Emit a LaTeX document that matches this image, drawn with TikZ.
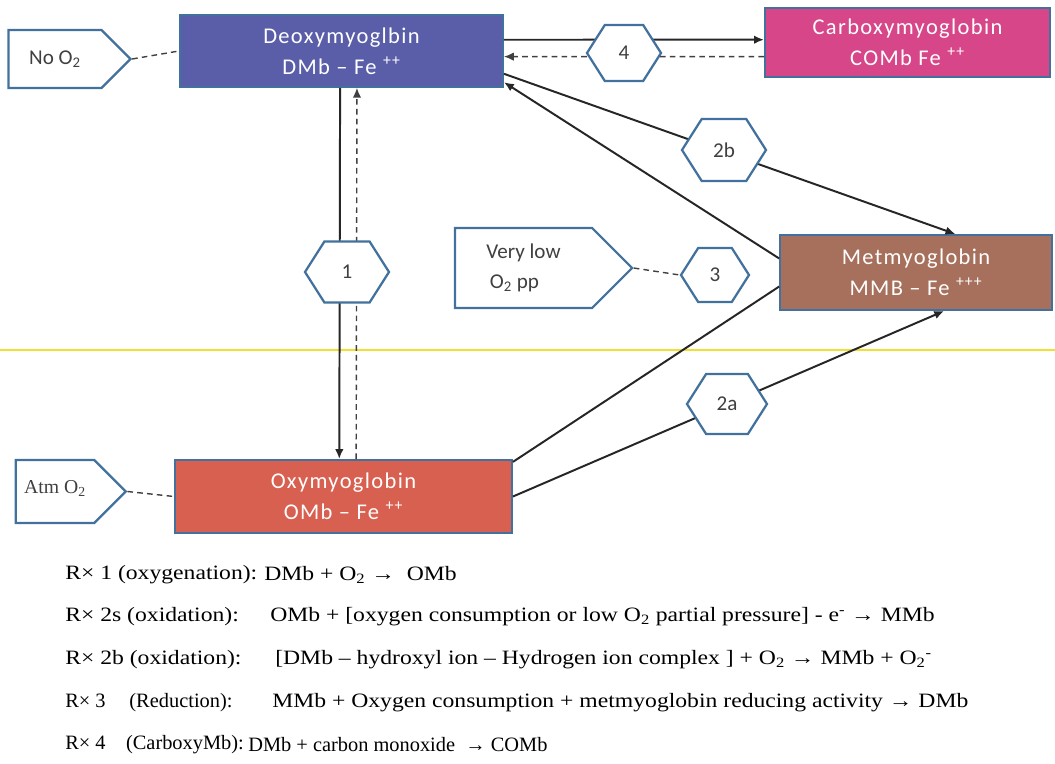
\documentclass[tikz,border=0pt]{standalone}
\usepackage{fontspec}
\setmainfont{Liberation Serif}
\newfontfamily\eqfont[FakeStretch=1.16]{Liberation Serif}
\newfontfamily\boxfont[LetterSpace=6]{Carlito}
\newfontfamily\tagfont{Carlito}
\usetikzlibrary{arrows.meta, positioning, shapes.symbols}
\definecolor{olBlue}{HTML}{41719C}
\definecolor{deoxyBlue}{HTML}{5A5EA8}
\definecolor{carboxyPink}{HTML}{D64688}
\definecolor{metBrown}{HTML}{A6705C}
\definecolor{oxyRed}{HTML}{D86050}
\definecolor{tagGray}{HTML}{404040}
\definecolor{markYellow}{HTML}{F2E030}

\begin{document}
\begin{tikzpicture}[x=0.025cm, y=-0.025cm,
    chem/.style={rectangle, draw=olBlue, line width=1.2pt, text=white,
                 font=\boxfont\fontsize{16}{20}\selectfont, align=center, inner sep=0pt},
    tag/.style={signal, signal to=east, signal pointer angle=90, fill=white,
                draw=olBlue, line width=1.6pt, text=tagGray, inner sep=0pt,
                font=\tagfont\fontsize{15}{19}\selectfont},
    rxn/.style={signal, signal to=east and west, signal pointer angle=115,
                fill=white, draw=olBlue, line width=1.6pt, text=tagGray, inner sep=0pt,
                font=\tagfont\fontsize{15}{19}\selectfont},
    link/.style={line width=1.4pt, black!85},
    weak/.style={line width=1pt, black!75, dashed, dash pattern=on 4pt off 3pt},
    tip/.style={-{Latex[length=7pt, width=6pt]}},
    eq/.style={anchor=west, inner sep=0pt, font=\eqfont\fontsize{14.5}{17}\selectfont},
    eqn/.style={eq, font=\rmfamily\fontsize{14.5}{17}\selectfont},
  ]
    \useasboundingbox (0,0) rectangle (1055,764);
    % yellow guide across the page
    \draw[markYellow, line width=1pt] (0,350) -- (1055,350);

    % ─── species ───
    \node[chem, fill=deoxyBlue, minimum width=8.08cm, minimum height=1.8cm] (dmb) at (341.5,51)
      {Deoxymyoglbin\\[2pt]DMb – Fe \textsuperscript{++}};
    \node[chem, fill=carboxyPink, minimum width=7.13cm, minimum height=1.73cm] (comb) at (907.5,42.5)
      {Carboxymyoglobin\\[2pt]COMb Fe \textsuperscript{++}};
    \node[chem, fill=metBrown, minimum width=6.8cm, minimum height=1.88cm] (mmb) at (916,272.5)
      {Metmyoglobin\\[2pt]MMB – Fe \textsuperscript{+++}};
    \node[chem, fill=oxyRed, minimum width=8.43cm, minimum height=1.83cm] (omb) at (343.5,496.5)
      {Oxymyoglobin\\[2pt]OMb – Fe \textsuperscript{++}};

    % ─── conditions ───
    \node[tag, minimum width=3.05cm, minimum height=1.45cm] (noO) at (55,59) {No O\textsubscript{2}\hspace{8pt}};
    \node[tag, minimum width=4.43cm, minimum height=2.0cm, align=left] (lowO) at (523.5,268)
      {Very low\\[2pt]\,O\textsubscript{2} pp\hspace{48pt}};
    \node[tag, minimum width=2.75cm, minimum height=1.58cm, font=\rmfamily\fontsize{14}{17}\selectfont] (atmO) at (55,491.5)
      {\raisebox{6pt}{Atm O\textsubscript{2}}\hspace{8pt}};

    % ─── connectors ───
    \draw[weak] (noO.east) -- (dmb.west);
    \draw[weak] (atmO.east) -- (omb.west);
    \draw[link, tip] ([yshift=8pt]dmb.east) -- ([yshift=2pt]comb.west);
    \draw[weak, tip] ([yshift=-10pt]comb.west) -- ([yshift=-4pt]dmb.east);
    \draw[link, tip] ([yshift=10pt]dmb.south east) -- ([xshift=28pt]mmb.north);
    \draw[link, tip] ([yshift=10pt]mmb.west) -- ([yshift=4pt]dmb.south east);
    \draw[link] ([yshift=-2pt]omb.north east) -- ([yshift=-10pt]mmb.west);
    \draw[link, tip] (omb.east) -- ([xshift=20pt]mmb.south);
    \draw[link, tip] ([xshift=-1pt]dmb.south) -- ([xshift=-3pt]omb.north);
    \draw[weak, tip] ([xshift=9pt]omb.north) -- ([xshift=11pt]dmb.south);

    % ─── reactions ───
    \node[rxn, minimum width=1.85cm, minimum height=1.4cm] (rFour) at (624,53) {4};
    \node[rxn, minimum width=2.1cm, minimum height=1.55cm] (rTwoB) at (724,150) {2b};
    \node[rxn, minimum width=1.7cm, minimum height=1.35cm] (rThree) at (715,275) {3};
    \node[rxn, minimum width=2.1cm, minimum height=1.52cm] (rOne) at (347,272) {1};
    \node[rxn, minimum width=2.0cm, minimum height=1.5cm] (rTwoA) at (727,404) {2a};
    \draw[weak] (lowO.east) -- (rThree.west);

    % ─── reaction list ───
    \node[eq] (lOne) at (65,575) {R× 1 (oxygenation):};
    \node[eq] (eOne) at (264,575) {DMb + O\textsubscript{2}\ → \ OMb};
    \node[eq] (lTwoA) at (65,617) {R× 2s (oxidation):};
    \node[eq] (eTwoA) at (270,617)
      {OMb + [oxygen consumption or low O\textsubscript{2} partial pressure] - e\textsuperscript{-} → MMb};
    \node[eq] (lTwoB) at (65,660) {R× 2b (oxidation):};
    \node[eq] (eTwoB) at (275,660)
      {[DMb – hydroxyl ion – Hydrogen ion complex ] + O\textsubscript{2} → MMb + O\textsubscript{2}\textsuperscript{-}};
    \node[eqn] (lThree) at (65,703) {R× 3\quad\,(Reduction):};
    \node[eq] (eThree) at (272,703)
      {MMb + Oxygen consumption + metmyoglobin reducing activity → DMb};
    \node[eqn] (lFour) at (65,745) {R× 4\quad(CarboxyMb):};
    \node[eqn] (eFour) at (248,745) {DMb + carbon monoxide\ \ → COMb};
  \end{tikzpicture}
\end{document}
